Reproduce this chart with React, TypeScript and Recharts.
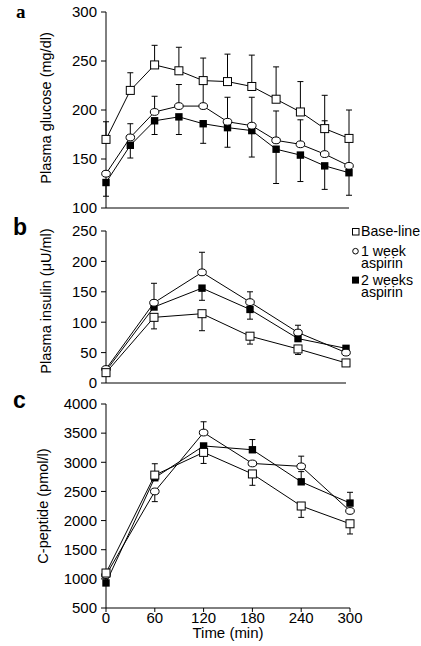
import React from 'react';
import { LineChart, Line, XAxis, YAxis, ErrorBar, Legend, Label } from 'recharts';

const FONT = '"Liberation Sans", Arial, Helvetica, sans-serif';

// panel a: glucose, sampled every 30 min
const glucoseTimes = [0, 30, 60, 90, 120, 150, 180, 210, 240, 270, 300];
const glucoseBase = [170, 220, 246, 240, 230, 229, 224, 211, 198, 181, 171];
const glucoseBaseErr = [18, 18, 20, 24, 23, 28, 32, 33, 31, 34, 29];
const glucose1wk = [135, 172, 198, 204, 204, 188, 184, 169, 165, 155, 143];
const glucose1wkErr = [0, 14, 16, 22, 24, 25, 29, 30, 25, 34, 28];
const glucose2wk = [126, 164, 189, 193, 186, 182, 179, 160, 154, 143, 136];
const glucose2wkErr = [-14, -13, -14, -18, -20, -20, -27, -35, -27, -24, -23];

// panels b and c: hourly samples
const hourTimes = [0, 60, 120, 180, 240, 300];
const insulinBase = [17, 108, 114, 77, 56, 33];
const insulinBaseErr = [0, -19, -28, -13, -9, 0];
const insulin1wk = [23, 132, 182, 133, 83, 50];
const insulin1wkErr = [0, 32, 33, 17, 12, 0];
const insulin2wk = [20, 125, 156, 121, 73, 57];
const insulin2wkErr = [0, 0, -20, -16, 0, 0];

const cpepBase = [1100, 2780, 3170, 2800, 2250, 1945];
const cpepBaseErr = [0, 0, -190, -195, -195, -175];
const cpep1wk = [1065, 2500, 3510, 2980, 2930, 2165];
const cpep1wkErr = [0, -175, 185, 0, 175, 0];
const cpep2wk = [930, 2735, 3280, 3215, 2665, 2300];
const cpep2wkErr = [0, 240, 0, 175, 175, 185];

// axes
const timeTicks = [0, 60, 120, 180, 240, 300];
const glucoseTicks = [100, 150, 200, 250, 300];
const insulinTicks = [0, 50, 100, 150, 200, 250];
const cpepTicks = [500, 1000, 1500, 2000, 2500, 3000, 3500, 4000];

const seriesNames = ['Base-line', '1 week\naspirin', '2 weeks\naspirin'];

type Row = {
  time: number;
  base: number;
  baseErr: number;
  wk1: number;
  wk1Err: number;
  wk2: number;
  wk2Err: number;
};

const buildRows = (
  t: number[],
  base: number[],
  baseErr: number[],
  wk1: number[],
  wk1Err: number[],
  wk2: number[],
  wk2Err: number[]
): Row[] =>
  t.map((time, i) => ({
    time,
    base: base[i],
    baseErr: baseErr[i],
    wk1: wk1[i],
    wk1Err: wk1Err[i],
    wk2: wk2[i],
    wk2Err: wk2Err[i],
  }));

const glucoseRows = buildRows(glucoseTimes, glucoseBase, glucoseBaseErr, glucose1wk, glucose1wkErr, glucose2wk, glucose2wkErr);
const insulinRows = buildRows(hourTimes, insulinBase, insulinBaseErr, insulin1wk, insulin1wkErr, insulin2wk, insulin2wkErr);
const cpepRows = buildRows(hourTimes, cpepBase, cpepBaseErr, cpep1wk, cpep1wkErr, cpep2wk, cpep2wkErr);

// signed error -> [below, above]; negative means the bar points down
const oneSided = (e: number) => (e < 0 ? [-e, 0] : [0, e]);

const openSquare = (p: any) => (
  <rect key={`os-${p.index}`} x={p.cx - 4} y={p.cy - 4} width={8} height={8} fill="#fff" stroke="#000" strokeWidth={1} />
);
const openCircle = (p: any) => (
  <ellipse key={`oc-${p.index}`} cx={p.cx} cy={p.cy} rx={4.3} ry={3.4} fill="#fff" stroke="#000" strokeWidth={1} />
);
const filledSquare = (p: any) => (
  <rect key={`fs-${p.index}`} x={p.cx - 3.7} y={p.cy - 3.7} width={7.4} height={7.4} fill="#000" />
);

const renderSeries = () => [
  <Line key="wk2" dataKey="wk2" type="linear" stroke="#000" strokeWidth={1} dot={filledSquare} activeDot={false} isAnimationActive={false}>
    <ErrorBar dataKey={(d: Row) => oneSided(d.wk2Err)} width={3} stroke="#000" strokeWidth={1} direction="y" />
  </Line>,
  <Line key="wk1" dataKey="wk1" type="linear" stroke="#000" strokeWidth={1} dot={openCircle} activeDot={false} isAnimationActive={false}>
    <ErrorBar dataKey={(d: Row) => oneSided(d.wk1Err)} width={3} stroke="#000" strokeWidth={1} direction="y" />
  </Line>,
  <Line key="base" dataKey="base" type="linear" stroke="#000" strokeWidth={1} dot={openSquare} activeDot={false} isAnimationActive={false}>
    <ErrorBar dataKey={(d: Row) => oneSided(d.baseErr)} width={3} stroke="#000" strokeWidth={1} direction="y" />
  </Line>,
];

// rotated y title plus the panel letter, drawn inside the chart svg
const yTitle = (text: string, letter: string, yc: number, bx: number, letterY: number, serifLetter: boolean) => () => (
  <g>
    <text
      x={bx}
      y={yc}
      transform={`rotate(-90 ${bx} ${yc})`}
      textAnchor="middle"
      fontSize={14.5}
      fontFamily={FONT}
      fill="#000"
    >
      {text}
    </text>
    <text
      x={serifLetter ? 16 : 13}
      y={letterY}
      fontSize={serifLetter ? 19 : 23}
      fontWeight="bold"
      fontFamily={serifLetter ? '"Liberation Serif", "Times New Roman", serif' : FONT}
      fill="#000"
    >
      {letter}
    </text>
  </g>
);

const xTitle = (props: any) => {
  const vb = props.viewBox;
  return (
    <text x={vb.x + vb.width / 2} y={254} textAnchor="middle" fontSize={15} fontFamily={FONT} fill="#000">
      Time (min)
    </text>
  );
};

const renderLegend = () => {
  const rows = [
    { shape: 'openSquare', y: 0 },
    { shape: 'openCircle', y: 19.7 },
    { shape: 'filledSquare', y: 48.6 },
  ];
  return (
    <svg width={71} height={80} style={{ display: 'block' }}>
      {seriesNames.map((name, i) => {
        const top = rows[i].y;
        const lines = name.split('\n');
        return (
          <g key={name}>
            {rows[i].shape === 'openSquare' && <rect x={2.5} y={top + 6.5} width={6.5} height={6.5} fill="#fff" stroke="#000" />}
            {rows[i].shape === 'openCircle' && <circle cx={5.5} cy={top + 9.5} r={2.8} fill="#fff" stroke="#000" />}
            {rows[i].shape === 'filledSquare' && <rect x={2} y={top + 6} width={7} height={7} fill="#000" />}
            {lines.map((ln, j) => (
              <text key={ln} x={11} y={top + 14 + j * 11.9} fontSize={14.2} fontFamily={FONT} fill="#000">
                {ln}
              </text>
            ))}
          </g>
        );
      })}
    </svg>
  );
};

const axisStroke = { stroke: '#000', strokeWidth: 1 };
const tickStyle = { fill: '#000', fontSize: 15, fontFamily: FONT };

export default function App() {
  return (
    <div style={{ position: 'absolute', left: 0, top: 0, width: 421, height: 646, background: '#fff', fontFamily: FONT }}>
      {/* a: plasma glucose */}
      <div style={{ position: 'absolute', left: 0, top: 0 }}>
        <LineChart width={421} height={225} data={glucoseRows} margin={{ top: 12, right: 72, bottom: 0, left: 0 }}>
          <XAxis
            dataKey="time"
            type="number"
            domain={[0, 300]}
            ticks={timeTicks}
            tick={false}
            tickSize={4}
            height={17}
            axisLine={axisStroke}
            tickLine={axisStroke}
          />
          <YAxis
            type="number"
            domain={[100, 300]}
            ticks={glucoseTicks}
            width={106}
            tickSize={5}
            tickMargin={4}
            tick={tickStyle}
            axisLine={axisStroke}
            tickLine={axisStroke}
            label={<Label content={yTitle('Plasma glucose (mg/dl)', 'a', 108, 50.5, 17.5, true)} />}
          />
          {renderSeries()}
        </LineChart>
      </div>

      {/* b: plasma insulin */}
      <div style={{ position: 'absolute', left: 0, top: 211 }}>
        <LineChart width={421} height={189} data={insulinRows} margin={{ top: 20, right: 75, bottom: 0, left: 0 }}>
          <XAxis
            dataKey="time"
            type="number"
            domain={[0, 300]}
            ticks={timeTicks}
            tick={false}
            tickSize={4}
            height={17}
            axisLine={axisStroke}
            tickLine={axisStroke}
          />
          <YAxis
            type="number"
            domain={[0, 250]}
            ticks={insulinTicks}
            width={106}
            tickSize={5}
            tickMargin={4}
            tick={tickStyle}
            axisLine={axisStroke}
            tickLine={axisStroke}
            label={<Label content={yTitle('Plasma insulin (\u03bcU/ml)', 'b', 90, 51, 24, false)} />}
          />
          <Legend
            layout="vertical"
            align="center"
            verticalAlign="middle"
            content={renderLegend}
            wrapperStyle={{ left: 350, top: 11, width: 71, height: 80 }}
          />
          {renderSeries()}
        </LineChart>
      </div>

      {/* c: C-peptide */}
      <div style={{ position: 'absolute', left: 0, top: 384 }}>
        <LineChart width={421} height={262} data={cpepRows} margin={{ top: 20, right: 71, bottom: 0, left: 0 }}>
          <XAxis
            dataKey="time"
            type="number"
            domain={[0, 300]}
            ticks={timeTicks}
            tickSize={4}
            tickMargin={0}
            height={38}
            tick={tickStyle}
            axisLine={axisStroke}
            tickLine={axisStroke}
            label={<Label content={xTitle} />}
          />
          <YAxis
            type="number"
            domain={[500, 4000]}
            ticks={cpepTicks}
            width={106}
            tickSize={5}
            tickMargin={4}
            tick={tickStyle}
            axisLine={axisStroke}
            tickLine={axisStroke}
            label={<Label content={yTitle('C-peptide (pmol/l)', 'c', 122, 48, 24, false)} />}
          />
          {renderSeries()}
        </LineChart>
      </div>
    </div>
  );
}
